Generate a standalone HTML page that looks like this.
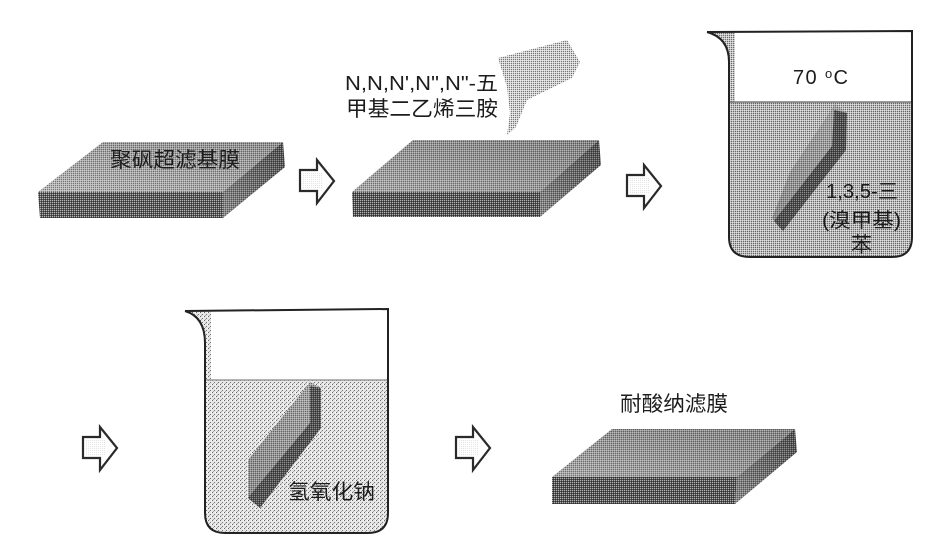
<!DOCTYPE html>
<html lang="zh">
<head>
<meta charset="utf-8">
<title>耐酸纳滤膜制备流程</title>
<style>
html,body{margin:0;padding:0;background:#fff;width:931px;height:555px;overflow:hidden}
svg{display:block}
text{font-family:"Liberation Sans","Noto Sans CJK SC",sans-serif;fill:#1c1c1c}
</style>
</head>
<body>
<svg width="931" height="555" viewBox="0 0 931 555" xmlns="http://www.w3.org/2000/svg">
<defs>
<pattern id="ck" width="2" height="2" patternUnits="userSpaceOnUse">
<rect width="1" height="1" fill="#fff" fill-opacity=".35"/>
<rect x="1" y="1" width="1" height="1" fill="#000" fill-opacity=".35"/>
</pattern>
<pattern id="ckS" width="2" height="2" patternUnits="userSpaceOnUse">
<rect width="1" height="1" fill="#fff" fill-opacity=".55"/>
<rect x="1" y="1" width="1" height="1" fill="#000" fill-opacity=".45"/>
</pattern>
<pattern id="lq2" width="4" height="4" patternUnits="userSpaceOnUse">
<rect width="4" height="4" fill="#e6e6e6"/>
<rect width="1" height="1" fill="#666"/>
<rect x="2" y="2" width="1" height="1" fill="#777"/>
<rect x="3" width="1" height="1" fill="#fff"/>
<rect x="1" y="3" width="1" height="1" fill="#aaa"/>
</pattern>
<linearGradient id="top" x1="0" y1="1" x2="1" y2="0">
<stop offset="0" stop-color="#bcbcbc"/><stop offset="1" stop-color="#929292"/>
</linearGradient>
<linearGradient id="top2" x1="0" y1="1" x2="1" y2="0">
<stop offset="0" stop-color="#acacac"/><stop offset="1" stop-color="#868686"/>
</linearGradient>
<linearGradient id="side" x1="0" y1="1" x2="1" y2="0">
<stop offset="0" stop-color="#8a8a8a"/><stop offset="1" stop-color="#4a4a4a"/>
</linearGradient>
<linearGradient id="soak" x1="1" y1="0" x2="0" y2="1">
<stop offset="0" stop-color="#a8a8a8"/><stop offset="1" stop-color="#8c8c8c"/>
</linearGradient>
<g id="arrow">
<path d="M0 10H17V0L34 21L17 43V31H0Z" fill="#fff" stroke="#2a2a2a" stroke-width="2.2" stroke-linejoin="miter"/>
<rect x="2" y="12" width="20" height="17" fill="url(#ckS)" opacity=".25"/>
</g>
</defs>

<!-- slab 1 -->
<polygon points="103,142 283,142 223,192 38,192" fill="url(#top)"/>
<polygon points="103,142 283,142 223,192 38,192" fill="url(#ck)"/>
<polygon points="38,192 223,192 223,218 40,218" fill="#5a5a5a"/>
<polygon points="38,192 223,192 223,218 40,218" fill="url(#ckS)"/>
<polygon points="223,192 283,142 285,167 223,218" fill="url(#side)"/>
<polygon points="223,192 283,142 285,167 223,218" fill="url(#ck)"/>
<text x="110" y="167" font-size="21" textLength="130" lengthAdjust="spacingAndGlyphs">聚砜超滤基膜</text>

<!-- arrow 1 -->
<use href="#arrow" transform="translate(300,160)"/>

<!-- pouring vessel -->
<polygon points="498,58 567,40 580,62 572,78 527,100 516,127 507,135 510,113 507,87" fill="#d4d4d4"/>
<polygon points="498,58 567,40 580,62 572,78 527,100 516,127 507,135 510,113 507,87" fill="url(#ckS)"/>
<text x="345" y="90" font-size="20" textLength="153" lengthAdjust="spacingAndGlyphs">N,N,N',N",N"-五</text>
<text x="346" y="116" font-size="21" textLength="152" lengthAdjust="spacingAndGlyphs">甲基二乙烯三胺</text>

<!-- slab 2 -->
<polygon points="413,140 599,140 540,192 352,192" fill="url(#top2)"/>
<polygon points="413,140 599,140 540,192 352,192" fill="url(#ck)"/>
<polygon points="352,192 540,192 540,217 353,217" fill="#545454"/>
<polygon points="352,192 540,192 540,217 353,217" fill="url(#ckS)"/>
<polygon points="540,192 599,140 601,165 540,217" fill="url(#side)"/>
<polygon points="540,192 599,140 601,165 540,217" fill="url(#ck)"/>

<!-- arrow 2 -->
<use href="#arrow" transform="translate(627,165)"/>

<!-- beaker 1 -->
<path d="M729 102H912V237Q912 257 892 257H750Q729 257 729 237Z" fill="#bcbcbc"/>
<path d="M729 102H912V237Q912 257 892 257H750Q729 257 729 237Z" fill="url(#ckS)"/>
<path d="M707 32Q729 38 729 62V102H735V32Z" fill="#c4c4c4"/>
<path d="M707 32Q729 38 729 62V102H735V32Z" fill="url(#ckS)"/>
<polygon points="835,104 847,113 846,150 783,231 772,218 790,172" fill="url(#soak)"/>
<polygon points="835,104 847,113 846,150 783,231 772,218 790,172" fill="url(#ck)"/>
<polygon points="834,110 847,113 846,150 783,231 774,221 832,146" fill="#4c4c4c"/>
<polygon points="834,110 847,113 846,150 783,231 774,221 832,146" fill="url(#ck)"/>
<line x1="729" y1="102" x2="912" y2="102" stroke="#777" stroke-width="1.5"/>
<path d="M707 32L912 31V237Q912 257 892 257H750Q729 257 729 237V62Q729 38 707 32" fill="none" stroke="#222" stroke-width="2"/>
<text x="793" y="84" font-size="20" textLength="55" lengthAdjust="spacing">70 <tspan font-size="13" dy="-6">o</tspan><tspan dy="6">C</tspan></text>
<text x="826" y="198" font-size="20" textLength="72" lengthAdjust="spacingAndGlyphs">1,3,5-三</text>
<text x="822" y="227" font-size="20" textLength="79" lengthAdjust="spacingAndGlyphs">(溴甲基)</text>
<text x="851" y="252" font-size="21">苯</text>

<!-- arrow 3 -->
<use href="#arrow" transform="translate(83,427)"/>

<!-- beaker 2 -->
<path d="M205 380H387V513Q387 533 367 533H225Q205 533 205 513Z" fill="url(#lq2)"/>
<path d="M185 311Q205 317 205 343V380H211V311Z" fill="url(#lq2)"/>
<polygon points="310,382 321,388 321,428 260,508 248,498 248,460" fill="url(#soak)"/>
<polygon points="310,382 321,388 321,428 260,508 248,498 248,460" fill="url(#ck)"/>
<polygon points="310,386 321,388 321,428 260,508 248,498 256,488 310,423" fill="#505050"/>
<polygon points="310,386 321,388 321,428 260,508 248,498 256,488 310,423" fill="url(#ck)"/>
<line x1="205" y1="380" x2="387" y2="380" stroke="#999" stroke-width="1.5"/>
<path d="M185 311L388 309V513Q388 533 368 533H225Q205 533 205 513V343Q205 317 185 311" fill="none" stroke="#222" stroke-width="2"/>
<text x="288" y="499" font-size="21" textLength="87" lengthAdjust="spacingAndGlyphs">氢氧化钠</text>

<!-- arrow 4 -->
<use href="#arrow" transform="translate(456,427)"/>

<!-- slab 3 -->
<text x="620" y="411" font-size="21" textLength="108" lengthAdjust="spacingAndGlyphs">耐酸纳滤膜</text>
<polygon points="612,429 795,429 737,477 552,477" fill="url(#top2)"/>
<polygon points="612,429 795,429 737,477 552,477" fill="url(#ck)"/>
<polygon points="552,477 737,477 735,504 552,504" fill="#545454"/>
<polygon points="552,477 737,477 735,504 552,504" fill="url(#ckS)"/>
<polygon points="737,477 795,429 797,452 735,504" fill="url(#side)"/>
<polygon points="737,477 795,429 797,452 735,504" fill="url(#ck)"/>
</svg>
</body>
</html>
